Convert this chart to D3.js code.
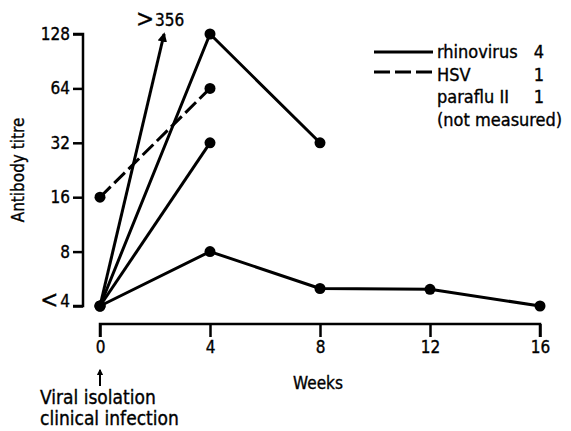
<!DOCTYPE html>
<html><head><meta charset="utf-8">
<script src="https://cdn.jsdelivr.net/npm/d3@7"></script>
<style>
body{margin:0;background:#fff;}
text{font-family:"DejaVu Sans Condensed","Liberation Sans Narrow",sans-serif;fill:#000;stroke:#000;stroke-width:0.35px;}
</style></head>
<body><svg id="c" width="571" height="431"></svg>
<script>
const weekTicks = [0, 4, 8, 12, 16];
const titreTicks = [4, 8, 16, 32, 64, 128];
const titreTickLabels = ["<4", "8", "16", "32", "64", "128"];

const rhinoA_weeks = [0, 4, 8, 12, 16];
const rhinoA_titre = [4, 8, 5, 4.95, 4];
const rhinoB_weeks = [0, 4, 8];
const rhinoB_titre = [4, 128, 32];
const rhinoC_weeks = [0, 4];
const rhinoC_titre = [4, 32];
const rhinoD_weeks = [0, 2.33];   // off-scale, arrow to >356
const rhinoD_titre = [4, 128];
const hsv_weeks = [0, 4];
const hsv_titre = [16, 64];

const legendLabels = ["rhinovirus", "HSV", "paraflu II", "(not measured)"];
const legendCounts = ["4", "1", "1", ""];

const svg = d3.select("#c");
const x = d3.scaleLinear().domain([0, 16]).range([100, 540]);
const y = d3.scaleLog().base(2).domain([4, 128]).range([306, 34]);

// Y axis
const yAxis = d3.axisLeft(y).tickValues(titreTicks).tickFormat((d, i) => titreTickLabels[i]).tickSize(10).tickPadding(3);
const gy = svg.append("g").attr("transform", "translate(83,0)").call(yAxis);
gy.select(".domain").attr("d", `M-10,${y(128)}H0V${y(4)}H-10`).attr("stroke-width", 2.5);
gy.selectAll(".tick line").attr("stroke-width", 2.5);
gy.selectAll(".tick text").style("font-size", "17px").attr("font-family", null);
gy.selectAll(".tick text").filter((d, i) => i === 0).text(null)
  .call(t => { t.append("tspan").text("<").style("font-size", "24px").attr("dy", "0.05em"); t.append("tspan").text("4").attr("dx", 2).attr("dy","-0.05em"); });

// X axis
const xAxis = d3.axisBottom(x).tickValues(weekTicks).tickSize(13).tickPadding(4);
const gx = svg.append("g").attr("transform", "translate(0,324)").call(xAxis);
gx.select(".domain").attr("d", `M${x(0)},13V0H${x(16)}V13`).attr("stroke-width", 2.5);
gx.selectAll(".tick line").attr("stroke-width", 2.5);
gx.selectAll(".tick text").style("font-size", "17px").attr("font-family", null);

// Lines
const line = d3.line().x(d => x(d[0])).y(d => y(d[1]));
function series(weeks, titre) { return weeks.map((w, i) => [w, titre[i]]); }
const solid = [series(rhinoA_weeks, rhinoA_titre), series(rhinoB_weeks, rhinoB_titre), series(rhinoC_weeks, rhinoC_titre)];
solid.forEach(s => {
  svg.append("path").attr("d", line(s)).attr("fill", "none").attr("stroke", "#000").attr("stroke-width", 3).attr("stroke-linejoin", "round");
  svg.selectAll(null).data(s).enter().append("circle").attr("cx", d => x(d[0])).attr("cy", d => y(d[1])).attr("r", 5.5).attr("fill", "#000");
});
const hs = series(hsv_weeks, hsv_titre);
svg.append("path").attr("d", line(hs)).attr("fill", "none").attr("stroke", "#000").attr("stroke-width", 3).attr("stroke-dasharray", "15,5");
svg.selectAll(null).data(hs).enter().append("circle").attr("cx", d => x(d[0])).attr("cy", d => y(d[1])).attr("r", 5.5).attr("fill", "#000");

// Arrow series
svg.append("defs").append("marker").attr("id", "ah").attr("viewBox", "0 0 10 10").attr("refX", 8).attr("refY", 5)
  .attr("markerWidth", 3.2).attr("markerHeight", 3.2).attr("orient", "auto")
  .append("path").attr("d", "M0,0L10,5L0,10z").attr("fill", "#000");
const ar = series(rhinoD_weeks, rhinoD_titre);
svg.append("path").attr("d", line(ar)).attr("fill", "none").attr("stroke", "#000").attr("stroke-width", 3).attr("marker-end", "url(#ah)");
const gt = svg.append("text").attr("x", x(2.33) - 4).attr("y", 26).attr("text-anchor", "middle");
gt.append("tspan").text(">").style("font-size", "24px").attr("dy", "0.05em");
gt.append("tspan").text("356").style("font-size", "17px").attr("dx", 1).attr("dy", "-0.05em");

// Legend
const lg = svg.append("g");
lg.append("line").attr("x1", 374).attr("x2", 433).attr("y1", 52).attr("y2", 52).attr("stroke", "#000").attr("stroke-width", 3);
lg.append("line").attr("x1", 374).attr("x2", 433).attr("y1", 72).attr("y2", 72).attr("stroke", "#000").attr("stroke-width", 3).attr("stroke-dasharray", "16,5");
legendLabels.forEach((l, i) => {
  lg.append("text").attr("x", 437).attr("y", 58 + i * 22.5).text(l).style("font-size", "18px");
  lg.append("text").attr("x", 539).attr("y", 58 + i * 22.5).attr("text-anchor", "middle").text(legendCounts[i]).style("font-size", "18px");
});

// Axis titles
svg.append("text").attr("transform", "translate(24,170) rotate(-90)").attr("text-anchor", "middle").text("Antibody titre").style("font-size", "17px");
svg.append("text").attr("x", 318).attr("y", 389).attr("text-anchor", "middle").text("Weeks").style("font-size", "17px");

// Annotation
svg.append("line").attr("x1", 100).attr("x2", 100).attr("y1", 386).attr("y2", 370).attr("stroke", "#000").attr("stroke-width", 2).attr("marker-end", "url(#ah)");
svg.append("text").attr("x", 40).attr("y", 404).text("Viral isolation").style("font-size", "19px");
svg.append("text").attr("x", 40).attr("y", 425).text("clinical infection").style("font-size", "19px");
</script></body></html>
